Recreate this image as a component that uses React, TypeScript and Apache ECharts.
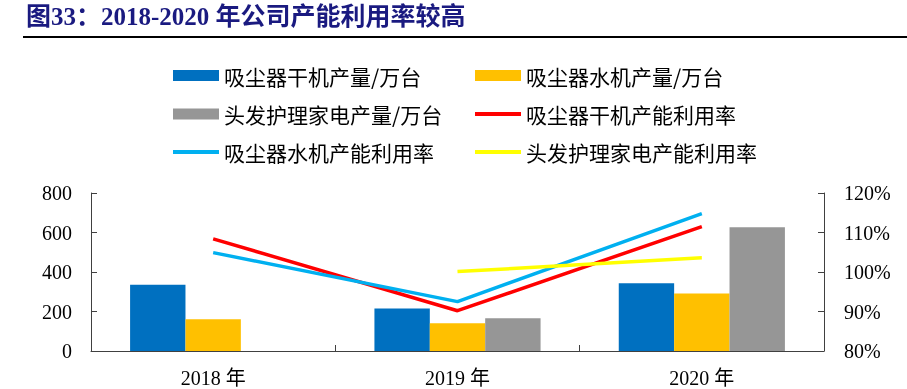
import React, { useEffect, useRef } from "react";
import * as echarts from "echarts";

const categories = ["2018 年", "2019 年", "2020 年"];
const dryOutput = [335, 215, 343];
const wetOutput = [161, 140, 291];
const hairOutput = [null, 166, 626];
const dryRate = [108.4, 90.2, 111.5];
const wetRate = [104.9, 92.5, 114.8];
const hairRate = [null, 100.1, 103.6];
const leftTicks = [0, 200, 400, 600, 800];
const rightTicks = [80, 90, 100, 110, 120];

const names = [
  "吸尘器干机产量/万台",
  "吸尘器水机产量/万台",
  "头发护理家电产量/万台",
  "吸尘器干机产能利用率",
  "吸尘器水机产能利用率",
  "头发护理家电产能利用率",
];
const colors = ["#0070C0", "#FFC000", "#969696", "#FF0000", "#00B0F0", "#FFFF00"];

const serif = "'Liberation Serif', 'Noto Sans CJK SC', serif";
const cjk = "'Noto Sans CJK SC', sans-serif";

export default function App() {
  const ref = useRef<HTMLDivElement>(null);
  useEffect(() => {
    if (!ref.current) return;
    const chart = echarts.init(ref.current, null, { renderer: "svg" });
    const legendPos = [
      [173, 65],
      [475, 65],
      [173, 103.5],
      [475, 103.5],
      [173, 141.5],
      [475, 141.5],
    ];
    const legends = names.map((n, i) => ({
      data: [{ name: n, icon: "rect" }],
      left: legendPos[i][0],
      top: legendPos[i][1],
      padding: 0,
      itemWidth: 46,
      itemHeight: i < 3 ? 11 : 4,
      itemGap: 0,
      selectedMode: false,
      textStyle: { fontFamily: cjk, fontSize: 21, color: "#000" },
    }));
    const axisLine = { show: true, lineStyle: { color: "#404040", width: 1 } };
    const barData = [dryOutput, wetOutput, hairOutput];
    const lineData = [dryRate, wetRate, hairRate];
    const series: any[] = [];
    barData.forEach((d, i) => {
      series.push({
        name: names[i],
        type: "bar",
        data: d,
        yAxisIndex: 0,
        barGap: "0%",
        barCategoryGap: "32%",
        itemStyle: { color: colors[i] },
      });
    });
    lineData.forEach((d, i) => {
      series.push({
        name: names[i + 3],
        type: "line",
        data: d,
        yAxisIndex: 1,
        symbol: "none",
        lineStyle: { color: colors[i + 3], width: 3.5 },
        itemStyle: { color: colors[i + 3] },
      });
    });
    chart.setOption({
      animation: false,
      color: colors,
      legend: legends,
      grid: { left: 91, right: 83, top: 193, bottom: 38, containLabel: false },
      graphic: [
        {
          type: "text",
          left: 26,
          top: 4,
          style: {
            text: "图33：2018-2020 年公司产能利用率较高",
            font: "bold 25px 'Liberation Serif', 'Noto Sans CJK SC', serif",
            fill: "#1a1a80",
          },
        },
        {
          type: "line",
          shape: { x1: 23, y1: 37, x2: 907, y2: 37 },
          style: { stroke: "#000", lineWidth: 2 },
        },
      ],
      xAxis: {
        type: "category",
        data: categories,
        axisLine,
        axisTick: { show: true, inside: true, length: 6, lineStyle: { color: "#404040" } },
        axisLabel: { fontFamily: serif, fontSize: 20, color: "#000", margin: 17 },
        splitLine: { show: false },
      },
      yAxis: [
        {
          type: "value",
          min: leftTicks[0],
          max: leftTicks[leftTicks.length - 1],
          interval: 200,
          axisLine,
          axisTick: { show: true, inside: true, length: 6, lineStyle: { color: "#404040" } },
          axisLabel: { fontFamily: serif, fontSize: 20, color: "#000", margin: 19 },
          splitLine: { show: false },
        },
        {
          type: "value",
          min: rightTicks[0],
          max: rightTicks[rightTicks.length - 1],
          interval: 10,
          position: "right",
          axisLine,
          axisTick: { show: true, inside: true, length: 6, lineStyle: { color: "#404040" } },
          axisLabel: {
            fontFamily: serif,
            fontSize: 20,
            color: "#000",
            margin: 20,
            formatter: (v: number) => `${v}%`,
          },
          splitLine: { show: false },
        },
      ],
      series,
    });
    return () => chart.dispose();
  }, []);
  return (
    <div
      ref={ref}
      style={{ position: "fixed", left: 0, top: 0, width: 907, height: 389 }}
    />
  );
}
